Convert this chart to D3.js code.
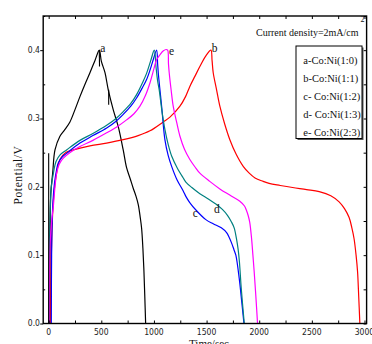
<!DOCTYPE html>
<html>
<head>
<meta charset="utf-8">
<script src="https://cdn.jsdelivr.net/npm/d3@7/dist/d3.min.js"></script>
<style>
  html, body { margin: 0; padding: 0; background: #fff; }
  svg { display: block; }
  .tick-label { font-family: "Liberation Sans Narrow", "DejaVu Sans Condensed", "Arial Narrow", sans-serif; font-size: 8.5px; fill: #222; }
  .serif { font-family: "Liberation Serif", "Times New Roman", serif; fill: #111; }
</style>
</head>
<body>
<svg id="chart" width="372" height="344"></svg>
<script>
// Galvanostatic charge/discharge curves, [time (s), potential (V)]
const curveA = [[12,0],[14,0.12],[20,0.19],[38,0.22],[60,0.254],[107,0.274],[150,0.283],[202,0.295],[250,0.313],[297,0.332],[350,0.352],[392,0.367],[440,0.385],[481,0.4],
  [500,0.384],[535,0.367],[566,0.342],[613,0.313],[661,0.288],[708,0.254],[740,0.228],[772,0.213],[803,0.198],[830,0.186],[851,0.174],[870,0.155],[883,0.139],[895,0.11],[905,0.076],[913,0.04],[921,0]];
const curveB = [[15,0],[20,0.05],[30,0.13],[45,0.18],[65,0.21],[107,0.24],[160,0.25],[234,0.254],[392,0.26],[550,0.264],[708,0.269],[850,0.275],[962,0.282],[1088,0.295],[1152,0.302],[1247,0.318],[1300,0.332],[1341,0.347],[1390,0.362],[1436,0.376],[1490,0.391],[1541,0.4],
  [1552,0.385],[1563,0.367],[1595,0.342],[1626,0.318],[1672,0.292],[1721,0.269],[1780,0.248],[1848,0.23],[1905,0.22],[1960,0.213],[2037,0.208],[2094,0.205],[2200,0.202],[2317,0.199],[2450,0.196],[2570,0.193],[2680,0.187],[2759,0.178],[2810,0.168],[2854,0.155],[2880,0.14],[2901,0.124],[2920,0.1],[2934,0.076],[2945,0.04],[2956,0]];
const curveC = [[25,0],[28,0.1],[38,0.17],[55,0.205],[75,0.225],[91,0.235],[130,0.244],[170,0.249],[297,0.264],[420,0.275],[551,0.286],[640,0.296],[708,0.306],[780,0.318],[835,0.33],[890,0.345],[930,0.357],[965,0.372],[993,0.386],[1025,0.4],
  [1035,0.38],[1041,0.367],[1073,0.318],[1104,0.269],[1135,0.246],[1168,0.23],[1220,0.21],[1278,0.194],[1303,0.186],[1340,0.177],[1405,0.165],[1493,0.152],[1563,0.146],[1640,0.14],[1690,0.133],[1715,0.126],[1737,0.118],[1760,0.108],[1778,0.1],[1810,0.066],[1835,0.03],[1855,0]];
const curveD = [[0,0],[3,0.06],[12,0.15],[25,0.2],[45,0.22],[70,0.237],[110,0.247],[170,0.254],[297,0.268],[420,0.278],[551,0.29],[640,0.3],[708,0.31],[780,0.322],[835,0.335],[890,0.352],[930,0.366],[970,0.385],[1003,0.4],
  [1020,0.375],[1035,0.355],[1050,0.342],[1075,0.312],[1104,0.284],[1135,0.262],[1168,0.245],[1220,0.228],[1278,0.213],[1303,0.207],[1360,0.199],[1436,0.19],[1520,0.182],[1595,0.174],[1650,0.167],[1700,0.158],[1735,0.149],[1762,0.14],[1785,0.123],[1800,0.108],[1812,0.09],[1830,0.05],[1858,0]];
const curveE = [[5,0],[7,0.06],[15,0.12],[28,0.15],[44,0.171],[60,0.2],[76,0.22],[100,0.233],[139,0.242],[200,0.25],[297,0.259],[420,0.268],[551,0.279],[650,0.288],[740,0.298],[810,0.307],[867,0.318],[920,0.334],[962,0.352],[1000,0.373],[1025,0.386],[1060,0.394],[1090,0.399],[1115,0.401],[1130,0.4],
  [1138,0.38],[1145,0.367],[1163,0.342],[1183,0.318],[1215,0.295],[1247,0.274],[1290,0.255],[1341,0.24],[1390,0.229],[1436,0.22],[1530,0.208],[1626,0.197],[1720,0.188],[1816,0.179],[1860,0.172],[1880,0.165],[1895,0.158],[1910,0.148],[1927,0.125],[1940,0.1],[1952,0.076],[1968,0.04],[1984,0]];
// short stray strokes belonging to trace a
const strokesA = [[[0,0.249],[0,0]], [[481,0.4],[483,0.376]], [[570,0.342],[570,0.32]]];

const seriesColors = ["#000000", "#ff0000", "#0000ff", "#008080", "#ff00ff"];
const seriesCurves = [curveA, curveB, curveC, curveD, curveE];
const curveLabels = ["a", "b", "c", "d", "e"];
const curveLabelPos = [[490,0.397],[1549,0.397],[1368,0.156],[1570,0.162],[1143,0.393]];
const legendLabels = ["a-Co:Ni(1:0)", "b-Co:Ni(1:1)", "c- Co:Ni(1:2)", "d- Co:Ni(1:3)", "e- Co:Ni(2:3)"];
const xTicks = [0, 500, 1000, 1500, 2000, 2500, 3000];
const xMinorTicks = d3.range(0, 3001, 250);
const yTicks = [0.0, 0.1, 0.2, 0.3, 0.4];
const yMinorTicks = d3.range(0, 0.451, 0.05);

const svg = d3.select("#chart");
const mLeft = 43.2, mRight = 366.6, mTop = 16, mBottom = 323.5;
const x = d3.scaleLinear().domain([-52, 3020]).range([mLeft, mRight]);
const y = d3.scaleLinear().domain([0, 0.45]).range([mBottom, mTop]);

const line = d3.line().x(d => x(d[0])).y(d => y(d[1])).curve(d3.curveCatmullRom.alpha(0.5));

const plot = svg.append("g");
seriesCurves.forEach((c, i) => {
  plot.append("path").attr("d", line(c)).attr("fill", "none")
    .attr("stroke", seriesColors[i]).attr("stroke-width", 1.2);
});
strokesA.forEach(s => {
  plot.append("path").attr("d", d3.line().x(d => x(d[0])).y(d => y(d[1]))(s))
    .attr("fill", "none").attr("stroke", "#000").attr("stroke-width", 1.1);
});

// curve letters
curveLabels.forEach((t, i) => {
  svg.append("text").attr("class", "serif").attr("x", x(curveLabelPos[i][0])).attr("y", y(curveLabelPos[i][1]))
    .attr("font-size", 11.5).attr("fill", "#222").text(t);
});

// axes with ticks
const axisG = svg.append("g");
axisG.append("g").attr("transform", `translate(0,${mBottom})`)
  .call(d3.axisBottom(x).tickValues(xMinorTicks).tickSize(-3).tickFormat(""))
  .call(g => g.select(".domain").remove());
axisG.append("g").attr("transform", `translate(0,${mTop})`)
  .call(d3.axisTop(x).tickValues(xMinorTicks).tickSize(-3).tickFormat(""))
  .call(g => g.select(".domain").remove());
axisG.append("g").attr("transform", `translate(${mLeft},0)`)
  .call(d3.axisLeft(y).tickValues(yTicks).tickSize(3).tickFormat(""))
  .call(g => g.select(".domain").remove());
axisG.append("g").attr("transform", `translate(${mLeft},0)`)
  .call(d3.axisLeft(y).tickValues(yMinorTicks.filter((v, i) => i % 2 === 1)).tickSize(-2).tickFormat(""))
  .call(g => g.select(".domain").remove());
axisG.append("g").attr("transform", `translate(${mRight},0)`)
  .call(d3.axisRight(y).tickValues(yMinorTicks).tickSize(-3).tickFormat(""))
  .call(g => g.select(".domain").remove());
axisG.selectAll("line").attr("stroke", "#000").attr("stroke-width", 1);

// frame
svg.append("rect").attr("x", mLeft).attr("y", mTop).attr("width", mRight - mLeft).attr("height", mBottom - mTop)
  .attr("fill", "none").attr("stroke", "#000").attr("stroke-width", 1.4);

// tick labels
svg.selectAll(".xl").data(xTicks).join("text").attr("class", "tick-label")
  .attr("x", d => x(d)).attr("y", 335).attr("text-anchor", "middle").text(d => d);
svg.selectAll(".yl").data(yTicks).join("text").attr("class", "tick-label")
  .attr("x", 40).attr("y", d => y(d)).attr("dy", "0.35em").attr("text-anchor", "end").text(d => d.toFixed(1));

// axis titles
svg.append("text").attr("class", "serif").attr("font-size", 11.5).attr("letter-spacing", 0.6)
  .attr("text-anchor", "middle").attr("transform", "translate(22,175) rotate(-90)").text("Potential/V");
svg.append("text").attr("class", "serif").attr("font-size", 11).attr("text-anchor", "start")
  .attr("x", 189).attr("y", 346.5).text("Time/sec");

// current density note
svg.append("text").attr("class", "serif").attr("font-size", 10).attr("x", 256).attr("y", 36).text("Current density=2mA/cm");
svg.append("text").attr("class", "serif").attr("font-size", 8).attr("x", 360.5).attr("y", 21.5).text("2");

// legend
const lg = svg.append("g");
lg.append("rect").attr("x", 297.5).attr("y", 47.5).attr("width", 66).attr("height", 92.5)
  .attr("fill", "#555");
lg.append("rect").attr("x", 296).attr("y", 46).attr("width", 66).attr("height", 92.5)
  .attr("fill", "#fff").attr("stroke", "#000").attr("stroke-width", 1);
legendLabels.forEach((t, i) => {
  lg.append("text").attr("class", "serif").attr("font-size", 10.5).attr("x", 303.3).attr("y", 64.3 + i * 17.9).text(t);
});
</script>
</body>
</html>
